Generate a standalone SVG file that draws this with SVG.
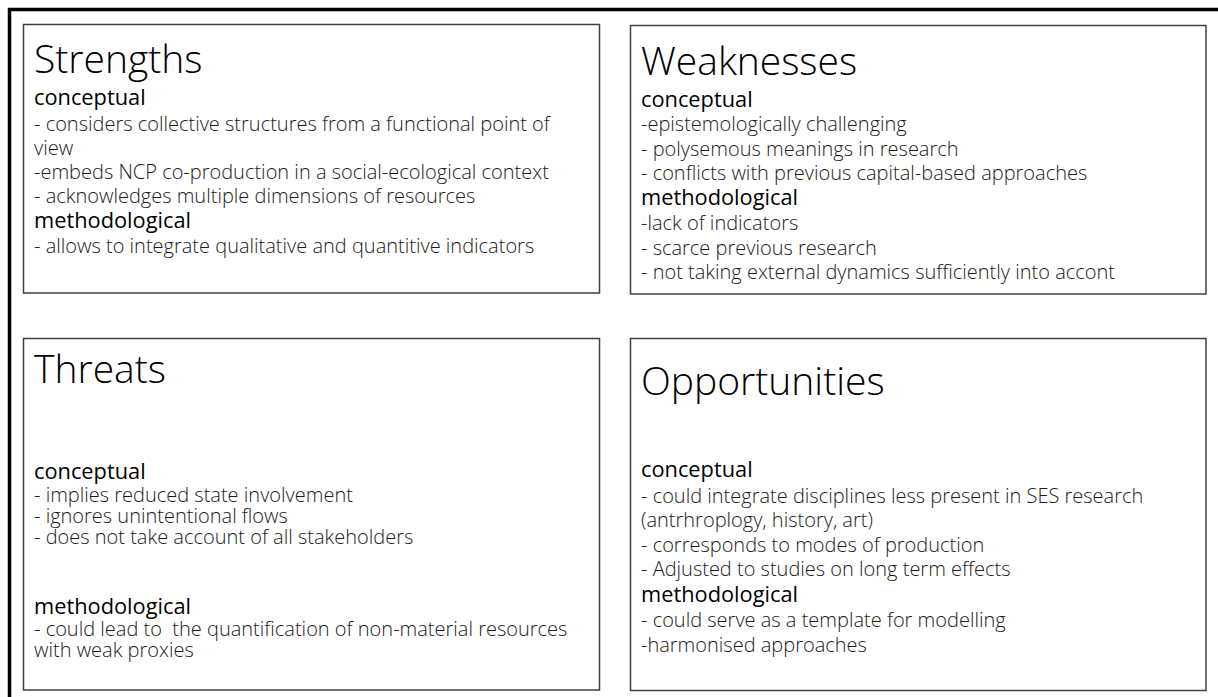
<svg xmlns="http://www.w3.org/2000/svg" width="1218" height="697" viewBox="0 0 1218 697">
<style>
.box{fill:#fff;stroke:#404040;stroke-width:1.5}
text{font-family:"Open Sans","Liberation Sans",sans-serif}
.title{font-size:39px;font-weight:300;fill:#000}
.sub{font-size:21.8px;font-weight:400;fill:#000}
.body{font-size:20px;font-weight:300;fill:#1a1a1a}
</style>
<rect width="1218" height="697" fill="#fff"/>
<path d="M9.5,697 V9.5 H1218" fill="none" stroke="#000" stroke-width="3.5"/>
<g id="connectors"></g>
<g id="strengths">
<rect class="box" x="23.5" y="24.5" width="576" height="268.5"/>
<text class="title" x="34" y="73">Strengths</text>
<text><tspan class="sub" x="34" y="105">conceptual</tspan><tspan class="body" x="34" y="131">- considers collective structures from a functional point of</tspan><tspan class="body" x="34" y="155">view</tspan><tspan class="body" x="34" y="179">-embeds NCP co-production in a social-ecological context</tspan><tspan class="body" x="34" y="203">- acknowledges multiple dimensions of resources</tspan><tspan class="sub" x="34" y="228">methodological</tspan><tspan class="body" x="34" y="253">- allows to integrate qualitative and quantitive indicators</tspan></text>
</g>
<g id="weaknesses">
<rect class="box" x="630.5" y="25.5" width="575.5" height="268.5"/>
<text class="title" x="641" y="75">Weaknesses</text>
<text><tspan class="sub" x="641" y="107">conceptual</tspan><tspan class="body" x="641" y="131">-epistemologically challenging</tspan><tspan class="body" x="641" y="156">- polysemous meanings in research</tspan><tspan class="body" x="641" y="180">- conflicts with previous capital-based approaches</tspan><tspan class="sub" x="641" y="205">methodological</tspan><tspan class="body" x="641" y="230">-lack of indicators</tspan><tspan class="body" x="641" y="255">- scarce previous research</tspan><tspan class="body" x="641" y="279">- not taking external dynamics sufficiently into accont</tspan></text>
</g>
<g id="threats">
<rect class="box" x="23.5" y="338.5" width="576" height="351.5"/>
<text class="title" x="34" y="383">Threats</text>
<text><tspan class="sub" x="34" y="479">conceptual</tspan><tspan class="body" x="34" y="502">- implies reduced state involvement</tspan><tspan class="body" x="34" y="523">- ignores unintentional flows</tspan><tspan class="body" x="34" y="544">- does not take account of all stakeholders</tspan></text>
<text><tspan class="sub" x="34" y="614">methodological</tspan><tspan class="body" x="34" y="636" xml:space="preserve">- could lead to  the quantification of non-material resources</tspan><tspan class="body" x="34" y="657">with weak proxies</tspan></text>
</g>
<g id="opportunities">
<rect class="box" x="630.5" y="338.5" width="575.5" height="352"/>
<text class="title" x="641" y="395">Opportunities</text>
<text><tspan class="sub" x="641" y="477">conceptual</tspan><tspan class="body" x="641" y="503">- could integrate disciplines less present in SES research</tspan><tspan class="body" x="641" y="527">(antrhroplogy, history, art)</tspan><tspan class="body" x="641" y="552">- corresponds to modes of production</tspan><tspan class="body" x="641" y="576">- Adjusted to studies on long term effects</tspan><tspan class="sub" x="641" y="602">methodological</tspan><tspan class="body" x="641" y="627">- could serve as a template for modelling</tspan><tspan class="body" x="641" y="652">-harmonised approaches</tspan></text>
</g>
</svg>
